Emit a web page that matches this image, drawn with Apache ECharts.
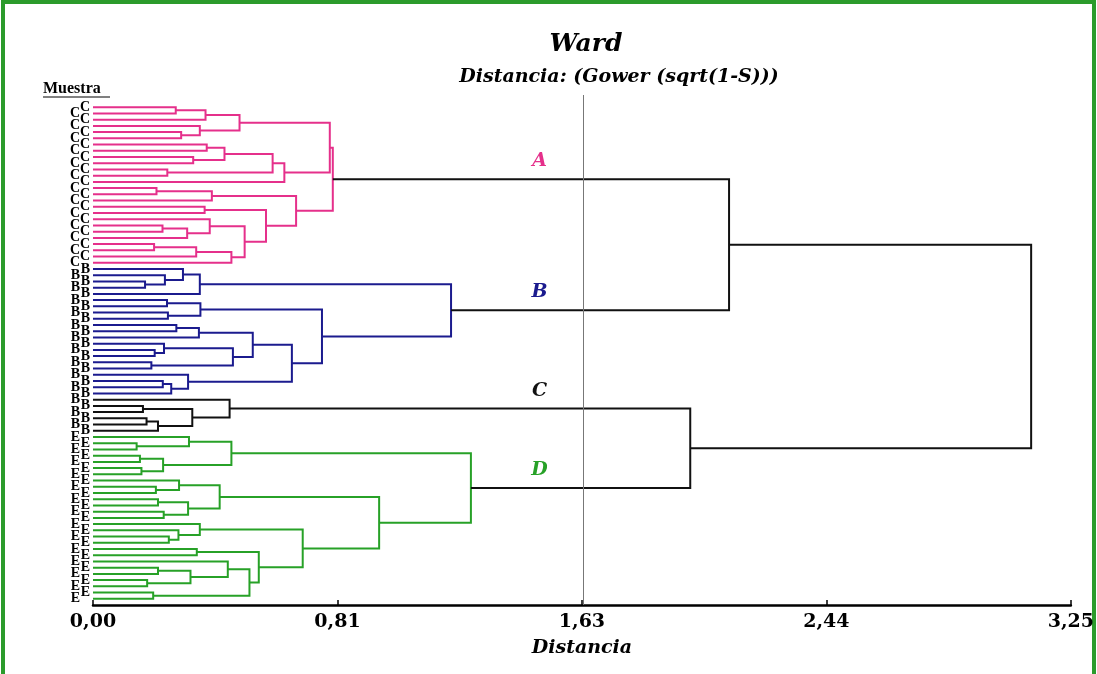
<!DOCTYPE html>
<html><head><meta charset="utf-8">
<script src="https://cdn.jsdelivr.net/npm/echarts@6/dist/echarts.min.js"></script>
<style>html,body{margin:0;padding:0;background:#fff}#c{width:1097px;height:674px}</style>
</head><body><div id="c"></div>
<script>
// ---------- DATA ----------
const leafLabels = [
  'C','C','C','C','C','C','C','C','C','C','C','C','C','C','C','C','C','C','C','C','C','C','C','C','C','C',
  'B','B','B','B','B','B','B','B','B','B','B','B','B','B','B','B','B','B','B','B','B',
  'B','B','B','B','B','B',
  'E','E','E','E','E','E','E','E','E','E','E','E','E','E','E','E','E','E','E','E','E','E','E','E','E','E','E'
];
// linkage: node ids < 80 are leaves (in display order), id 80+k is merge k
const mergeLeft = [
  0, 80, 4, 3, 81, 6, 8, 85, 10, 87, 89, 84, 13, 92, 16, 19, 95, 18, 22, 98, 99, 97, 94, 93, 91,
  28, 27, 26, 107, 31, 33, 109, 35, 112, 39, 38, 41, 115, 113, 44, 119, 43, 118, 111, 108,
  48, 50, 126, 125, 47,
  54, 53, 56, 58, 132, 131, 61, 60, 63, 65, 138, 137, 69, 68, 67, 71, 74, 76, 146, 73, 78, 149, 145, 144, 141, 135,
  129, 104, 157
];
const mergeRight = [
  1, 2, 5, 82, 83, 7, 9, 86, 11, 88, 12, 90, 14, 15, 17, 20, 21, 96, 23, 24, 25, 100, 101, 102, 103,
  29, 105, 106, 30, 32, 34, 110, 36, 37, 40, 114, 42, 116, 117, 45, 46, 120, 121, 122, 123,
  49, 51, 52, 127, 128,
  55, 130, 57, 59, 133, 134, 62, 136, 64, 66, 139, 140, 70, 142, 143, 72, 75, 77, 147, 148, 79, 150, 151, 152, 153, 154,
  155, 124, 156
];
const mergeHeight = [
  0.275, 0.374, 0.293, 0.355, 0.487, 0.378, 0.333, 0.437, 0.247, 0.597, 0.636, 0.787, 0.211, 0.395, 0.371, 0.231, 0.313, 0.388, 0.203, 0.343, 0.460, 0.504, 0.575, 0.675, 0.797,
  0.173, 0.239, 0.299, 0.355, 0.246, 0.249, 0.357, 0.277, 0.352, 0.205, 0.236, 0.194, 0.465, 0.531, 0.232, 0.260, 0.316, 0.661, 0.761, 1.190,
  0.166, 0.178, 0.216, 0.330, 0.454,
  0.145, 0.319, 0.156, 0.161, 0.233, 0.460, 0.209, 0.286, 0.216, 0.235, 0.316, 0.421, 0.252, 0.284, 0.355, 0.345, 0.216, 0.180, 0.324, 0.448, 0.200, 0.520, 0.551, 0.697, 0.951, 1.256,
  1.985, 2.114, 3.118
];
const clusterNames = ['A', 'B', 'C', 'D'];
const clusterRootNodes = [104, 124, 129, 155];
const xTickLabels = ['0,00', '0,81', '1,63', '2,44', '3,25'];
const xMax = 3.25;
const cutHeight = 1.625;

// ---------- STYLE ----------
const clusterColors = ['#e5308b', '#1b1b8e', '#111111', '#27a127'];
const linkWidth = 2;
const clusterLabelX = 1.484;
const serifBI = 'DejaVu Serif';

// ---------- LAYOUT (dendrogram geometry from linkage) ----------
const N = leafLabels.length;
const nodeX = [], nodeY = [];
for (let i = 0; i < N; i++) { nodeX[i] = 0; nodeY[i] = i; }
mergeHeight.forEach((h, k) => {
  nodeX[N + k] = h;
  nodeY[N + k] = (nodeY[mergeLeft[k]] + nodeY[mergeRight[k]]) / 2;
});
const nodeColor = new Array(N + mergeHeight.length).fill('#111111');
clusterRootNodes.forEach((root, c) => {
  const stack = [root];
  while (stack.length) {
    const n = stack.pop();
    nodeColor[n] = clusterColors[c];
    if (n >= N) { stack.push(mergeLeft[n - N], mergeRight[n - N]); }
  }
});
const linkData = mergeHeight.map((h, k) => {
  const l = mergeLeft[k], r = mergeRight[k];
  return {
    coords: [[nodeX[l], nodeY[l]], [h, nodeY[l]], [h, nodeY[r]], [nodeX[r], nodeY[r]]],
    lineStyle: { color: nodeColor[N + k] }
  };
});
const tickStep = xMax / (xTickLabels.length - 1);

const chart = echarts.init(document.getElementById('c'), null, { renderer: 'canvas' });
chart.setOption({
  backgroundColor: '#ffffff',
  animation: false,
  grid: { left: 93, right: 23, top: 101, bottom: 69 },
  xAxis: {
    type: 'value', min: 0, max: xMax, interval: tickStep, position: 'bottom',
    axisLine: { onZero: false, lineStyle: { color: '#000', width: 2.5 } },
    axisTick: { inside: true, length: 5, lineStyle: { color: '#000', width: 1.5 } },
    splitLine: { show: false },
    axisLabel: {
      margin: 8, color: '#000', fontFamily: serifBI, fontWeight: 'bold', fontSize: 19,
      formatter: v => xTickLabels[Math.round(v / tickStep)]
    },
    name: 'Distancia', nameLocation: 'middle', nameGap: 34,
    nameTextStyle: { color: '#000', fontFamily: serifBI, fontWeight: 'bold', fontStyle: 'italic', fontSize: 19 }
  },
  yAxis: { type: 'value', min: -1, max: N, inverse: true, show: false },
  graphic: [
    { type: 'rect', shape: { x: 3, y: 2, width: 1091, height: 690 }, style: { fill: 'none', stroke: '#2b9b2b', lineWidth: 4 }, silent: true },
    { type: 'line', shape: { x1: 583.5, y1: 95, x2: 583.5, y2: 102 }, style: { stroke: '#777', lineWidth: 1 }, silent: true },
    { type: 'text', x: 586, y: 44, style: { text: 'Ward', textAlign: 'center', textVerticalAlign: 'middle', font: 'italic bold 25px "DejaVu Serif"', fill: '#000' } },
    { type: 'text', x: 619, y: 77, style: { text: 'Distancia: (Gower (sqrt(1-S)))', textAlign: 'center', textVerticalAlign: 'middle', font: 'italic bold 19px "DejaVu Serif"', fill: '#000' } },
    { type: 'text', x: 43, y: 89, style: { text: 'Muestra', textAlign: 'left', textVerticalAlign: 'middle', font: 'bold 16px "Liberation Serif"', fill: '#000' } },
    { type: 'line', shape: { x1: 43, y1: 97, x2: 110, y2: 97 }, style: { stroke: '#000', lineWidth: 1 } }
  ],
  series: [
    {
      type: 'lines', coordinateSystem: 'cartesian2d', polyline: true, silent: true,
      lineStyle: { width: linkWidth, opacity: 1 },
      data: linkData,
      markLine: {
        silent: true, symbol: 'none', label: { show: false },
        lineStyle: { color: '#777', width: 1, type: 'solid' },
        data: [{ xAxis: cutHeight }]
      }
    },
    {
      type: 'scatter', silent: true, symbolSize: 0, itemStyle: { opacity: 1 },
      data: leafLabels.map((t, i) => ({
        value: [0, i],
        label: { formatter: t, offset: [i % 2 === 0 ? 0 : -10, 0] }
      })),
      label: { show: true, position: 'left', distance: 3, color: '#000', fontFamily: 'Liberation Serif', fontWeight: 'bold', fontSize: 14 }
    },
    {
      type: 'scatter', silent: true, symbolSize: 0, itemStyle: { opacity: 1 },
      data: clusterRootNodes.map((n, c) => ({
        value: [clusterLabelX, nodeY[n]],
        label: { formatter: clusterNames[c], color: clusterColors[c] }
      })),
      label: { show: true, opacity: 1, position: 'inside', offset: [0, -18], fontFamily: serifBI, fontWeight: 'bold', fontStyle: 'italic', fontSize: 19 }
    }
  ]
});
</script></body></html>
